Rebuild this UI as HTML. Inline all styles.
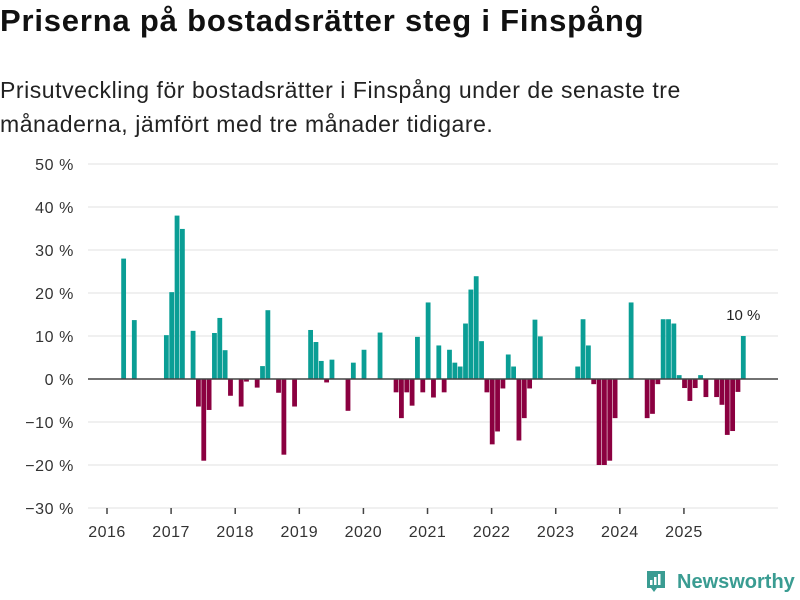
<!DOCTYPE html>
<html><head><meta charset="utf-8"><style>
body{margin:0;width:800px;height:600px;background:#fff;font-family:"Liberation Sans",sans-serif;overflow:hidden;position:relative}
h1{position:absolute;left:0;top:3px;margin:0;font-size:31px;font-weight:bold;color:#111;letter-spacing:0.8px;white-space:nowrap}
p{position:absolute;left:0;top:73px;margin:0;font-size:23px;line-height:34px;color:#222;width:760px;letter-spacing:0.55px;white-space:nowrap}
svg{position:absolute;left:0;top:0}
</style></head><body>
<h1>Priserna på bostadsrätter steg i Finspång</h1>
<p>Prisutveckling för bostadsrätter i Finspång under de senaste tre<br>månaderna, jämfört med tre månader tidigare.</p>
<svg id="chart" width="800" height="600"></svg>
<script>
const yTicks=[-30,-20,-10,0,10,20,30,40,50];
const yearLabels=["2016","2017","2018","2019","2020","2021","2022","2023","2024","2025"];
const monthIndex=[3,5,11,12,13,14,16,17,18,19,20,21,22,23,25,26,28,29,30,32,33,35,38,39,40,41,42,45,46,48,51,54,55,56,57,58,59,60,61,62,63,64,65,66,67,68,69,70,71,72,73,74,75,76,77,78,79,80,81,88,89,90,91,92,93,94,95,98,101,102,103,104,105,106,107,108,109,110,111,112,114,115,116,117,118,119];
const values=[28,13.7,10.2,20.2,38,34.9,11.2,-6.4,-19,-7.2,10.7,14.2,6.7,-3.9,-6.4,-0.6,-2,3,16,-3.2,-17.6,-6.4,11.4,8.6,4.2,-0.8,4.5,-7.4,3.8,6.8,10.8,-3.1,-9.1,-3.1,-6.2,9.8,-3.1,17.8,-4.3,7.8,-3.1,6.8,3.8,2.9,12.9,20.8,23.9,8.8,-3.1,-15.2,-12.2,-2.2,5.7,2.9,-14.3,-9.1,-2.2,13.8,9.9,2.9,13.9,7.8,-1.2,-20,-20,-19,-9.1,17.8,-9.1,-8.1,-1.2,13.9,13.9,12.9,0.9,-2.1,-5.1,-2.1,0.9,-4.2,-4.2,-6,-13,-12.1,-3,10];
const lastLabel="10 %";
const svg=document.getElementById('chart');
const NS='http://www.w3.org/2000/svg';
const y=v=>379-v*4.3;
const xm=m=>106+m*5.342;
function mk(t,a){const e=document.createElementNS(NS,t);for(const k in a)e.setAttribute(k,a[k]);svg.appendChild(e);return e;}
yTicks.forEach(v=>{
 const l=mk('line',{x1:88,x2:778,y1:y(v),y2:y(v),stroke:'#e2e2e2','stroke-width':1});
 
 
 const t=mk('text',{x:74,y:y(v)+6,'text-anchor':'end','font-size':16,'letter-spacing':0.6,fill:'#333','font-family':'Liberation Sans, sans-serif'});
 t.textContent=(v<0?'−'+(-v):v)+' %';
 
 
});
yearLabels.forEach((s,i)=>{
 const x=xm(i*12)+1;
 const tk=mk('line',{x1:x,x2:x,y1:508,y2:514,stroke:'#444','stroke-width':1.5});
 
 
 const t=mk('text',{x:x,y:537,'text-anchor':'middle','font-size':16,'letter-spacing':0.5,fill:'#333','font-family':'Liberation Sans, sans-serif'});
 t.textContent=s;
 
 
});
monthIndex.forEach((m,i)=>{
 const v=values[i];
 const x=xm(m+0.3)-2.4;
 const r=mk('rect',{x:x,width:4.8,y:Math.min(y(v),379),height:Math.abs(y(v)-379),fill:v>=0?'#0a9e95':'#8b0040'});
 
 
});
const zl=mk('line',{x1:88,x2:778,y1:379,y2:379,stroke:'#444','stroke-width':1.5});


const lm=monthIndex[monthIndex.length-1],lv=values[values.length-1];
const lt=mk('text',{x:xm(lm+0.3),y:y(lv)-16,'text-anchor':'middle','font-size':15,fill:'#222','font-family':'Liberation Sans, sans-serif'});
lt.textContent=lastLabel;


</script>
<div style="position:absolute;left:645px;top:569px;height:26px;display:flex;align-items:center">
<svg width="22" height="26" viewBox="0 0 22 26" style="position:static"><path d="M2 2h18v17h-8l-3 4-3-4H2z" fill="#3a9c92"/><rect x="5" y="11" width="2.5" height="5" fill="#fff"/><rect x="9" y="8" width="2.5" height="8" fill="#fff"/><rect x="13" y="5" width="2.5" height="11" fill="#fff"/></svg>
<span style="margin-left:10px;font-size:20px;font-weight:bold;color:#3a9c92">Newsworthy</span></div>
</body></html>
